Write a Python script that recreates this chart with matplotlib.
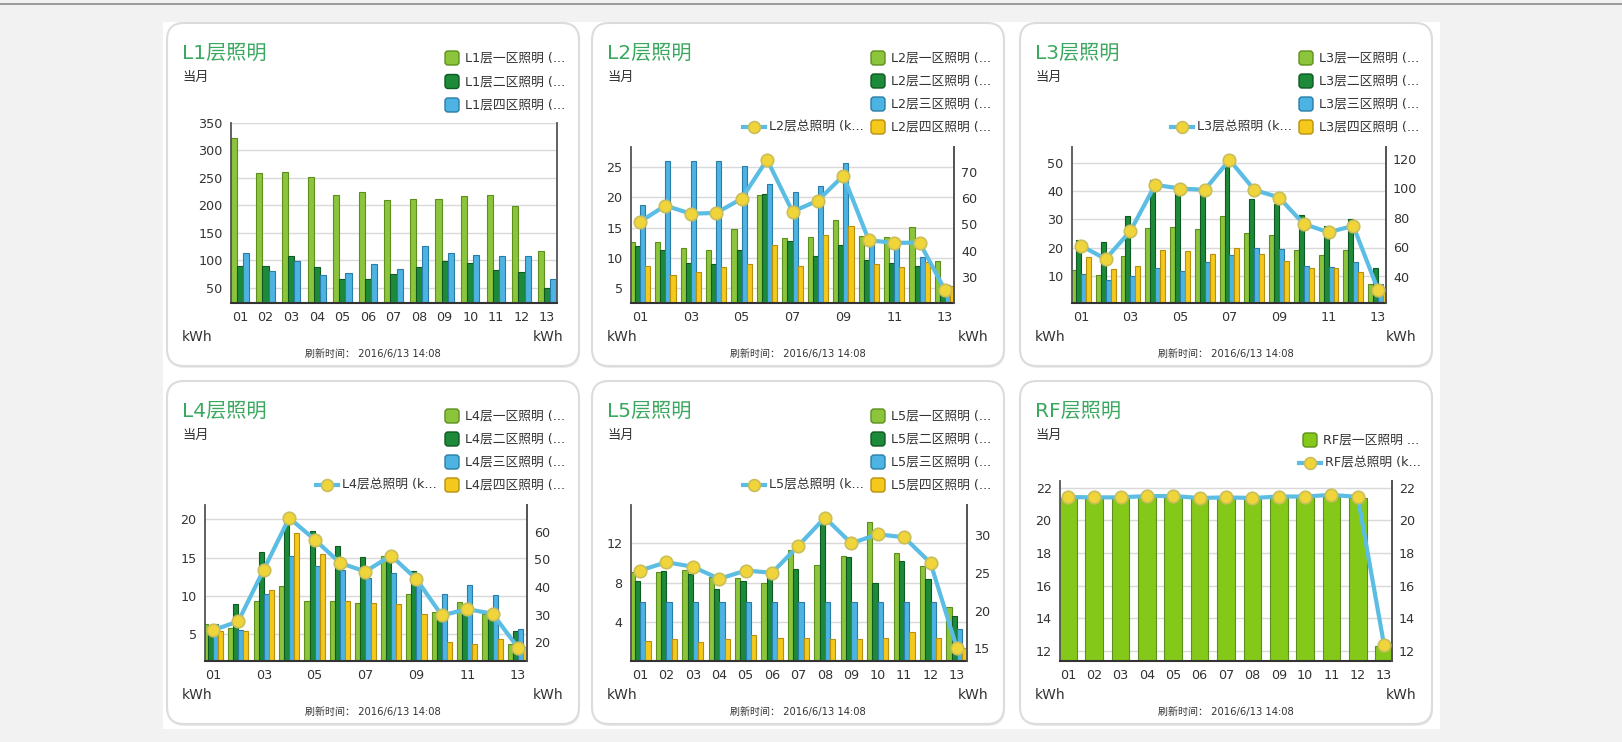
import matplotlib
matplotlib.use('Agg')
import matplotlib.pyplot as plt
from matplotlib.patches import FancyBboxPatch, Rectangle
from matplotlib.lines import Line2D
from matplotlib.transforms import Affine2D
import numpy as np

plt.rcParams['font.family'] = ['DejaVu Sans', 'Noto Sans CJK SC']

# ---- data ----
months = ['01', '02', '03', '04', '05', '06', '07', '08', '09', '10', '11', '12', '13']

l1_zone1 = [323, 258, 260, 251, 219, 224, 210, 211, 211, 217, 219, 199, 116]
l1_zone2 = [90, 90, 108, 87, 65, 66, 74, 88, 99, 95, 82, 79, 50]
l1_zone4 = [113, 81, 98, 73, 77, 93, 84, 125, 113, 110, 108, 108, 65]

l2_zone1 = [12.6, 12.6, 11.6, 11.3, 14.8, 20.4, 13.2, 13.4, 16.2, 13.6, 13.5, 15.1, 9.5]
l2_zone2 = [11.9, 11.3, 9.1, 9.0, 11.3, 20.5, 12.8, 10.3, 12.1, 9.6, 9.1, 8.7, 3.8]
l2_zone3 = [18.7, 26.0, 26.0, 26.0, 25.2, 22.2, 20.8, 21.9, 25.7, 12.9, 12.1, 10.2, 5.5]
l2_zone4 = [8.6, 7.2, 7.7, 8.5, 9.0, 12.1, 8.7, 13.8, 15.3, 8.9, 8.5, 9.3, 5.3]
l2_total = [51.0, 57.2, 54.1, 54.4, 59.8, 74.7, 54.9, 59.1, 68.6, 44.0, 43.0, 43.1, 24.9]

l3_zone1 = [12.1, 10.1, 17.1, 26.8, 27.4, 26.5, 31.3, 25.1, 24.5, 19.2, 17.4, 19.2, 7.1]
l3_zone2 = [22.7, 22.1, 31.3, 43.9, 40.9, 40.4, 50.0, 37.1, 35.3, 31.5, 27.6, 30.0, 12.9]
l3_zone3 = [10.6, 8.6, 9.8, 12.9, 11.8, 14.7, 17.4, 19.8, 19.4, 13.5, 13.1, 14.7, 7.2]
l3_zone4 = [16.5, 12.4, 13.5, 19.2, 18.6, 17.8, 19.8, 17.6, 15.1, 12.7, 12.7, 11.3, 5.1]
l3_total = [61.2, 52.2, 71.2, 102.4, 99.9, 99.0, 119.3, 99.0, 93.8, 75.9, 70.3, 74.6, 31.2]

l4_zone1 = [6.4, 5.9, 9.3, 11.3, 9.4, 9.4, 9.1, 15.2, 10.3, 7.9, 9.2, 7.7, 3.8]
l4_zone2 = [6.1, 9.0, 15.8, 20.4, 18.5, 16.5, 15.1, 14.5, 13.2, 6.9, 7.6, 7.4, 5.4]
l4_zone3 = [6.4, 5.6, 10.3, 15.2, 13.9, 13.4, 12.3, 13.0, 11.9, 10.3, 11.4, 10.2, 5.7]
l4_zone4 = [5.4, 5.4, 10.8, 18.2, 15.5, 9.3, 9.1, 8.9, 7.7, 4.0, 3.7, 4.4, 3.3]
l4_total = [24.3, 27.6, 46.3, 65.0, 57.2, 48.7, 45.6, 51.4, 42.9, 29.7, 32.0, 30.3, 18.0]

l5_zone1 = [9.1, 9.1, 9.3, 8.6, 8.5, 8.0, 11.3, 9.8, 10.7, 14.1, 11.0, 9.7, 5.5]
l5_zone2 = [8.2, 9.2, 8.9, 7.4, 8.2, 8.6, 9.4, 14.2, 10.6, 8.0, 10.2, 8.4, 4.6]
l5_zone3 = [6.0, 6.0, 6.0, 6.0, 6.0, 6.0, 6.0, 6.0, 6.0, 6.05, 6.05, 6.0, 3.3]
l5_zone4 = [2.1, 2.3, 2.0, 2.25, 2.75, 2.35, 2.4, 2.3, 2.3, 2.35, 3.0, 2.4, 1.4]
l5_total = [25.3, 26.4, 25.8, 24.2, 25.3, 25.0, 28.6, 32.3, 28.9, 30.1, 29.7, 26.3, 15.0]

rf_zone1 = [21.38, 21.38, 21.38, 21.4, 21.4, 21.35, 21.38, 21.35, 21.4, 21.4, 21.45, 21.38, 12.33]
rf_total = [21.42, 21.4, 21.4, 21.48, 21.48, 21.36, 21.4, 21.36, 21.45, 21.45, 21.55, 21.43, 12.35]

l1_labels = ['L1层一区照明 (...', 'L1层二区照明 (...', 'L1层四区照明 (...']
l2_labels = ['L2层一区照明 (...', 'L2层二区照明 (...', 'L2层三区照明 (...', 'L2层四区照明 (...']
l3_labels = ['L3层一区照明 (...', 'L3层二区照明 (...', 'L3层三区照明 (...', 'L3层四区照明 (...']
l4_labels = ['L4层一区照明 (...', 'L4层二区照明 (...', 'L4层三区照明 (...', 'L4层四区照明 (...']
l5_labels = ['L5层一区照明 (...', 'L5层二区照明 (...', 'L5层三区照明 (...', 'L5层四区照明 (...']
rf_labels = ['RF层一区照明 ...']
total_labels = ['L2层总照明 (k...', 'L3层总照明 (k...', 'L4层总照明 (k...',
                'L5层总照明 (k...', 'RF层总照明 (k...']
footer = '刷新时间： 2016/6/13 14:08'

# ---- colours ----
LG, LG_E = '#8cc43c', '#5d8f1e'
RF_G = '#84c81a'
DG, DG_E = '#1d8a3a', '#0f5a22'
BL, BL_E = '#4db3e2', '#2a7da6'
YE, YE_E = '#f4c91c', '#b8900e'
LINE_C, MK_FC, MK_EC = '#5bbde3', '#f0d53a', '#c9be5a'
TITLE_C = '#3aa85e'
TXT = '#333333'

W, H = 1622, 742
fig = plt.figure(figsize=(W / 100, H / 100), dpi=100, facecolor='#f2f2f2')
px = Affine2D().scale(1.0 / W, -1.0 / H).translate(0, 1) + fig.transFigure

fig.add_artist(Line2D([0, W], [4, 4], transform=px, color='#8a8a8a', lw=1.2,
                      zorder=-5))
fig.add_artist(Rectangle((163, 22), 1277, 707, transform=px,
                         facecolor='white', edgecolor='none', zorder=-5))


def card(x, y, title):
    w, h = 412, 343
    fig.add_artist(FancyBboxPatch((x + 1, y + 2), w, h, transform=px,
                                  boxstyle='round,pad=0,rounding_size=17',
                                  facecolor='#ececec', edgecolor='none',
                                  zorder=-4))
    fig.add_artist(FancyBboxPatch((x, y), w, h, transform=px,
                                  boxstyle='round,pad=0,rounding_size=17',
                                  facecolor='white', edgecolor='#dcdcdc', lw=1.5,
                                  zorder=-3))
    fig.text(x + 15, y + 30, title, transform=px, fontsize=14.5, color=TITLE_C,
             va='center', ha='left')
    fig.text(x + 15, y + 54, '当月', transform=px, fontsize=9.5, color=TXT,
             va='center', ha='left')
    fig.text(x + 15, y + 314, 'kWh', transform=px, fontsize=10, color=TXT,
             va='center', ha='left')
    fig.text(x + 366, y + 314, 'kWh', transform=px, fontsize=10, color=TXT,
             va='center', ha='left')
    fig.text(x + w / 2, y + 331, footer, transform=px, fontsize=7.2, color=TXT,
             va='center', ha='center')


def legend_square(cx, cy, label, fc, ec):
    fig.add_artist(FancyBboxPatch((cx - 7, cy - 7), 14, 14, transform=px,
                                  boxstyle='round,pad=0,rounding_size=3',
                                  facecolor=fc, edgecolor=ec, lw=1))
    fig.text(cx + 13, cy, label, transform=px, fontsize=9.2, color=TXT,
             va='center', ha='left')


def legend_line(cx, cy, label):
    fig.add_artist(Line2D([cx - 11, cx + 11], [cy, cy], transform=px,
                          color=LINE_C, lw=3))
    fig.add_artist(Line2D([cx], [cy], transform=px, marker='o', ms=8.5,
                          mfc=MK_FC, mec=MK_EC, mew=1.2, lw=0))
    fig.text(cx + 15, cy, label, transform=px, fontsize=9.2, color=TXT,
             va='center', ha='left')


def panel(box, series, colors, width, xlim, ylim, yticks, step=1,
          total=None, y2lim=None, y2ticks=None):
    l, t, r, b = box
    ax = fig.add_axes([l / W, 1 - b / H, (r - l) / W, (b - t) / H])
    ax.set_facecolor('white')
    x = np.arange(1, 14)
    n = len(series)
    for i, (vals, (fc, ec)) in enumerate(zip(series, colors)):
        off = (i - (n - 1) / 2.0) * width
        ax.bar(x + off, vals, width, color=fc, edgecolor=ec, lw=0.8, zorder=2)
    ax.set_xlim(*xlim)
    ax.set_ylim(*ylim)
    ax.set_yticks(yticks)
    ax.set_xticks(x[::step])
    ax.set_xticklabels(months[::step])
    ax.yaxis.grid(True, color='#d9d9d9', lw=1)
    ax.set_axisbelow(True)
    ax.tick_params(length=0, labelsize=9.2, colors=TXT)
    ax.tick_params(axis='x', pad=6)
    ax.tick_params(axis='y', pad=6)
    ax.spines['top'].set_visible(False)
    for s in ('left', 'right'):
        ax.spines[s].set_color('#555555')
        ax.spines[s].set_linewidth(1.3)
    ax.spines['bottom'].set_color('#333333')
    ax.spines['bottom'].set_linewidth(1.5)
    if total is not None:
        ax2 = ax.twinx()
        ax2.plot(x, total, color=LINE_C, lw=3, marker='o', ms=9,
                 mfc=MK_FC, mec=MK_EC, mew=1.2, zorder=5, clip_on=False)
        ax2.set_ylim(*y2lim)
        ax2.set_yticks(y2ticks)
        ax2.tick_params(length=0, labelsize=9.2, colors=TXT, pad=5)
        for s in ('top', 'left', 'bottom'):
            ax2.spines[s].set_visible(False)
        ax2.spines['right'].set_color('#555555')
        ax2.spines['right'].set_linewidth(1.3)
    return ax


c4 = [(LG, LG_E), (DG, DG_E), (BL, BL_E), (YE, YE_E)]

# L1
card(167, 23, 'L1层照明')
panel((231, 123, 557, 303), [l1_zone1, l1_zone2, l1_zone4], [c4[0], c4[1], c4[2]],
      0.24, (0.65, 13.39), (22, 350), [50, 100, 150, 200, 250, 300, 350])
for i, lab in enumerate(l1_labels):
    legend_square(452, 58 + 23.5 * i, lab, *c4[i])

# L2
card(592, 23, 'L2层照明')
panel((631, 147, 954, 303), [l2_zone1, l2_zone2, l2_zone3, l2_zone4], c4,
      0.2, (0.65, 13.35), (2.54, 28.3), [5, 10, 15, 20, 25], step=2,
      total=l2_total, y2lim=(20.1, 79.5), y2ticks=[30, 40, 50, 60, 70])
for i, lab in enumerate(l2_labels):
    legend_square(878, 58 + 23 * i, lab, *c4[i])
legend_line(754, 127, total_labels[0])

# L3
card(1020, 23, 'L3层照明')
panel((1072, 147, 1386, 303), [l3_zone1, l3_zone2, l3_zone3, l3_zone4], c4,
      0.2, (0.64, 13.32), (0.35, 55.6), [10, 20, 30, 40, 50], step=2,
      total=l3_total, y2lim=(22.4, 128), y2ticks=[40, 60, 80, 100, 120])
for i, lab in enumerate(l3_labels):
    legend_square(1306, 58 + 23 * i, lab, *c4[i])
legend_line(1182, 127, total_labels[1])

# L4
card(167, 381, 'L4层照明')
panel((205, 505, 527, 661), [l4_zone1, l4_zone2, l4_zone3, l4_zone4], c4,
      0.2, (0.69, 13.35), (1.54, 21.86), [5, 10, 15, 20], step=2,
      total=l4_total, y2lim=(13.2, 69.7), y2ticks=[20, 30, 40, 50, 60])
for i, lab in enumerate(l4_labels):
    legend_square(452, 416 + 23 * i, lab, *c4[i])
legend_line(327, 485, total_labels[2])

# L5
card(592, 381, 'L5层照明')
panel((631, 505, 967, 661), [l5_zone1, l5_zone2, l5_zone3, l5_zone4], c4,
      0.2, (0.66, 13.38), (0.07, 15.87), [4, 8, 12],
      total=l5_total, y2lim=(13.33, 33.97), y2ticks=[15, 20, 25, 30])
for i, lab in enumerate(l5_labels):
    legend_square(878, 416 + 23 * i, lab, *c4[i])
legend_line(754, 485, total_labels[3])

# RF
card(1020, 381, 'RF层照明')
panel((1060, 481, 1392, 661), [rf_zone1], [(RF_G, LG_E)], 0.67, (0.70, 13.3),
      (11.39, 22.4), [12, 14, 16, 18, 20, 22],
      total=rf_total, y2lim=(11.39, 22.4), y2ticks=[12, 14, 16, 18, 20, 22])
legend_square(1310, 440, rf_labels[0], RF_G, LG_E)
legend_line(1310, 463, total_labels[4])

fig.savefig('out.png', dpi=100, facecolor=fig.get_facecolor())
